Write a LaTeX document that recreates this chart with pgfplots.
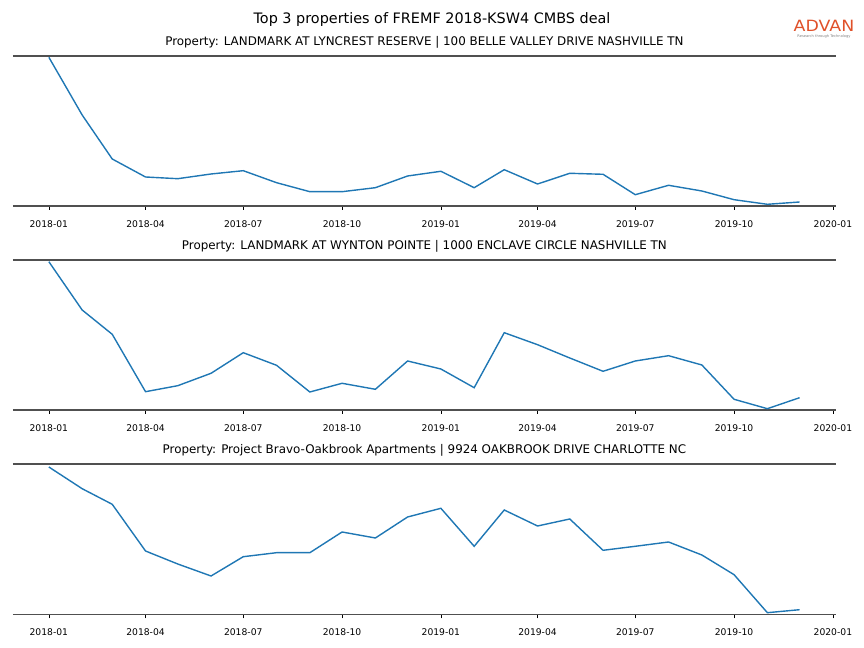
\documentclass[border=0pt]{standalone}
\usepackage{fontspec}
\setmainfont{DejaVu Sans}
\usepackage{pgfplots}
\pgfplotsset{compat=1.18}
\definecolor{mplblue}{HTML}{1F77B4}
\definecolor{spine}{HTML}{505050}
\definecolor{advan}{HTML}{E0512A}
% x = days since 2018-01-01, y
\pgfplotsset{panel/.style={
		scale only axis, width=823bp, height=150bp,
		anchor=south west,
		xmin=-33.5, xmax=732.8, ymin=0, ymax=150,
		axis x line=box, axis y line=none,
		axis line style={spine, line width=1.5bp},
		xtick pos=left, tick align=outside,
		major tick length=10bp,
		every tick/.style={black, line width=0.6bp, dash pattern=on 0bp off 6bp on 4bp},
		xtick={0,90,181,273,365,455,546,638,730},
		xticklabels={2018-01,2018-04,2018-07,2018-10,2019-01,2019-04,2019-07,2019-10,2020-01},
		/pgf/number format/assume math mode=true,
		xticklabel style={font=\fontsize{9.2bp}{11bp}\selectfont, yshift=-1bp},
		title style={font=\fontsize{11.9bp}{14bp}\selectfont, yshift=-2bp},
		clip=false,
	},
	series/.style={mplblue, line width=1.4bp}}
\begin{document}
\begin{tikzpicture}[x=1bp,y=1bp]
\path[use as bounding box] (0,0) rectangle (864,648);
\node[font=\fontsize{14.4bp}{16bp}\selectfont] at (432,628) {Top 3 properties of FREMF 2018-KSW4 CMBS deal};
\node[font=\fontsize{15.5bp}{16bp}\selectfont, text=advan, inner sep=0pt, xscale=1.12, anchor=base] at (824,616) {ADVAN};
\node[font=\fontsize{3.6bp}{4bp}\selectfont, text=gray, inner sep=0pt, anchor=north] at (824,613) {Research through Technology};

\begin{axis}[panel, at={(12,442)},
	title={Property: LANDMARK AT LYNCREST RESERVE | 100 BELLE VALLEY DRIVE NASHVILLE TN}]
\addplot[series] coordinates {(0,148.7)(31,91)(59,47)(90,29)(120,27.3)(151,32)(181,35.3)(212,23.3)(243,14.3)(273,14.3)(304,18.3)(334,30)
	(365,34.7)(396,18.3)(424,36.3)(455,22)(485,32.7)(516,31.7)(546,11.3)(577,20.7)(608,15)(638,6.3)(669,1.7)(699,4)};
\end{axis}

\begin{axis}[panel, at={(12,238)},
	title={Property: LANDMARK AT WYNTON POINTE | 1000 ENCLAVE CIRCLE NASHVILLE TN}]
\addplot[series] coordinates {(0,148.3)(31,100)(59,75.7)(90,18.3)(120,24.3)(151,36.7)(181,57.3)(212,44.7)(243,18)(273,26.7)(304,20.7)(334,49)
	(365,41)(396,22.3)(424,77.3)(455,65.3)(485,52)(516,38.7)(546,49)(577,54.3)(608,45)(638,10.7)(669,1.3)(699,12.3)};
\end{axis}

\begin{axis}[panel, at={(12,33.5)}, height=150.5bp, ymax=150.5,
	title={Property: Project Bravo-Oakbrook Apartments | 9924 OAKBROOK DRIVE CHARLOTTE NC}]
\addplot[series] coordinates {(0,147.5)(31,125.8)(59,110.2)(90,63.5)(120,50.5)(151,38.5)(181,57.8)(212,61.8)(243,61.8)(273,82.5)(304,76.5)(334,97.5)
	(365,106.2)(396,68.2)(424,104.5)(455,88.5)(485,95.5)(516,64.2)(546,68.2)(577,72.5)(608,59.5)(638,39.8)(669,1.8)(699,4.8)};
\end{axis}
\end{tikzpicture}
\end{document}
